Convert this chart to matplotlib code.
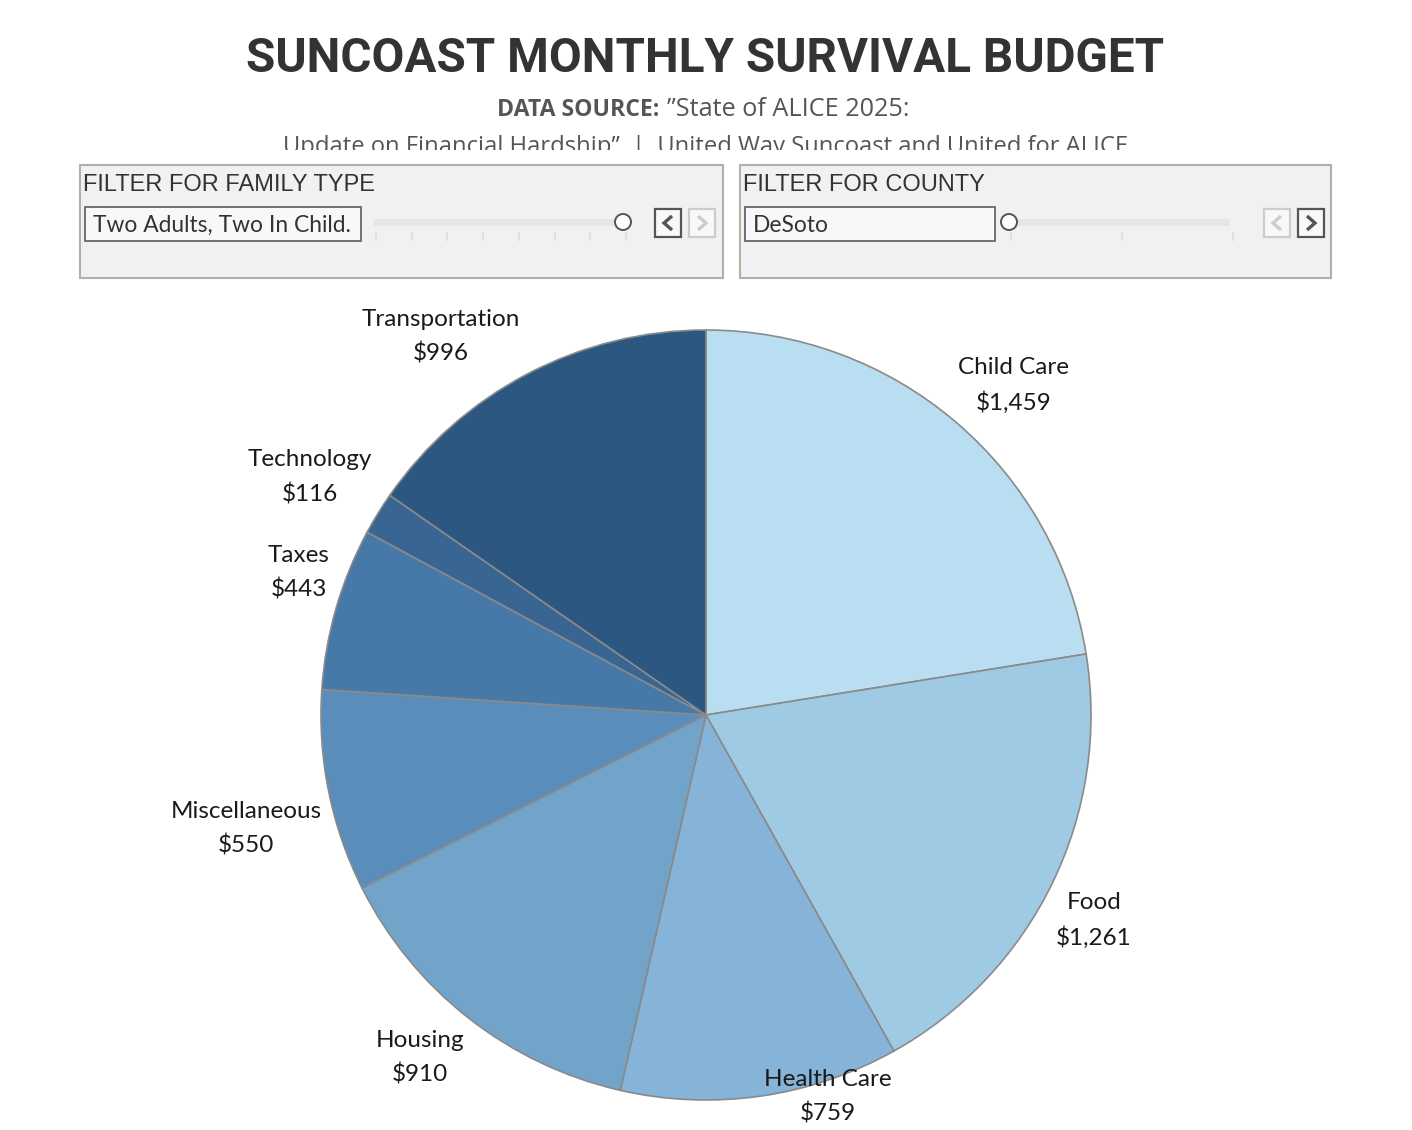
import numpy as np
import matplotlib
matplotlib.use("Agg")
import matplotlib.pyplot as plt
from matplotlib.patches import Rectangle, Circle
from matplotlib.transforms import Bbox

# données du budget (DeSoto, deux adultes / deux enfants)
categories = ["Child Care", "Food", "Health Care", "Housing",
              "Miscellaneous", "Taxes", "Technology", "Transportation"]
values = [1459, 1261, 759, 910, 550, 443, 116, 996]
colors = ["#b9ddf1", "#9fcae4", "#86b4d8", "#72a3c9",
          "#5b8dba", "#4779a8", "#386592", "#2b5781"]
# distance des étiquettes (en rayons) et décalage angulaire horaire (degrés)
label_dist = [1.17, 1.14, 1.04, 1.16, 1.23, 1.12, 1.20, 1.20]
label_shift = [2.6, 2.1, -9.5, 1.8, -2.5, 3.2, -0.6, -7.4]

family_choice = "Two Adults, Two In Child."
county_choice = "DeSoto"
family_ticks = 8
county_ticks = 3

W, H = 1412, 1130
fig = plt.figure(figsize=(W / 100, H / 100), dpi=100)
renderer = fig.canvas.get_renderer()


def fit_width(t, target):
    # ajuste la taille de police pour obtenir la largeur voulue en pixels
    for _ in range(3):
        w = t.get_window_extent(renderer).width
        t.set_fontsize(t.get_fontsize() * target / w)


# --- camembert ---
cx, cy, R = 706, 715, 385
ax = fig.add_axes([(cx - R) / W, (H - cy - R) / H, 2 * R / W, 2 * R / H])
wedges, _ = ax.pie(values, colors=colors, startangle=90, counterclock=False,
                   radius=1.0, wedgeprops=dict(edgecolor="#8a8a8a", linewidth=1.2))
ax.set_xlim(-1, 1)
ax.set_ylim(-1, 1)
ax.set_aspect("equal")
ax.axis("off")

total = sum(values)
cum = 0
for name, v, d, s in zip(categories, values, label_dist, label_shift):
    mid = (cum + v / 2) / total * 360
    cum += v
    ang = np.deg2rad(90 - mid - s)
    ax.text(d * np.cos(ang), d * np.sin(ang), f"{name}\n${v:,}",
            ha="center", va="center", fontsize=17.5, family="Lato",
            color="#1a1a1a", linespacing=1.7, clip_on=False)

# --- calque en pixels pour le titre et les filtres ---
ov = fig.add_axes([0, 0, 1, 1], zorder=-1)
ov.set_xlim(0, W)
ov.set_ylim(H, 0)
ov.axis("off")

title = ov.text(705, 59, "SUNCOAST MONTHLY SURVIVAL BUDGET", ha="center", va="center",
                fontsize=36, fontweight="bold", family="Roboto", color="#333333")
fit_width(title, 916)

t1 = ov.text(497, 110, "DATA SOURCE:", ha="left", va="center", fontsize=16,
             fontweight="bold", family="Open Sans", color="#555555")
fit_width(t1, 162)
t2 = ov.text(667, 110, "\u201dState of ALICE 2025:", ha="left", va="center",
             fontsize=16, family="Open Sans", color="#555555")
fit_width(t2, 242)
sub2 = ov.text(706, 147, "Update on Financial Hardship\u201d  |  United Way Suncoast and United for ALICE",
               ha="center", va="center", fontsize=16, family="Open Sans", color="#555555")
fit_width(sub2, 846)
sub2.set_clip_box(Bbox([[0, H - 150], [W, H - 120]]))
sub2.set_clip_on(True)


def chevron(x, y, direction, color):
    dx = 4 * direction
    ov.plot([x - dx, x + dx, x - dx], [y - 7, y, y + 7], color=color, lw=2.4,
            solid_capstyle="butt", solid_joinstyle="miter", zorder=6)


def filter_panel(x0, x1, title, choice, box_x1, tr_x0, tr_x1, handle_x, tick_x1,
                 n_ticks, left_on, right_on, btn_x):
    ov.add_patch(Rectangle((x0, 165), x1 - x0, 113, facecolor="#f0f1f3",
                           edgecolor="#b3b1a5", linewidth=1.5))
    ov.text(x0 + 3, 185, title, ha="left", va="center", fontsize=17,
            family="Liberation Sans", color="#333333")
    ov.add_patch(Rectangle((x0 + 5, 207), box_x1 - x0 - 5, 34, facecolor="#f7f8fa",
                           edgecolor="#666666", linewidth=1.3))
    c = ov.text(x0 + 13, 225, choice, ha="left", va="center", fontsize=16.4,
                family="Lato", color="#333333")
    ov.add_patch(Rectangle((tr_x0, 219), tr_x1 - tr_x0, 7, facecolor="#e6e6e6",
                           edgecolor="none"))
    for tx in np.linspace(tr_x0 + 2, tick_x1, n_ticks):
        ov.plot([tx, tx], [233, 240], color="#dcdcdc", lw=1.2)
    ov.add_patch(Circle((handle_x, 222), 8, facecolor="white",
                        edgecolor="#555555", linewidth=1.4, zorder=5))
    for bx, on, dirn in zip(btn_x, (left_on, right_on), (-1, 1)):
        ec = "#555555" if on else "#cccccc"
        ov.add_patch(Rectangle((bx, 209), 26, 28, facecolor="#f7f8fa",
                               edgecolor=ec, linewidth=1.6))
        chevron(bx + 13, 223, dirn, ec)
    return c


filter_panel(80, 723, "FILTER FOR FAMILY TYPE", family_choice, 361, 374, 622, 623, 626,
             family_ticks, True, False, (655, 689))
filter_panel(740, 1331, "FILTER FOR COUNTY", county_choice, 995, 1009, 1230, 1009, 1233,
             county_ticks, False, True, (1264, 1298))

fig.savefig("out.png", dpi=100, facecolor="white")
